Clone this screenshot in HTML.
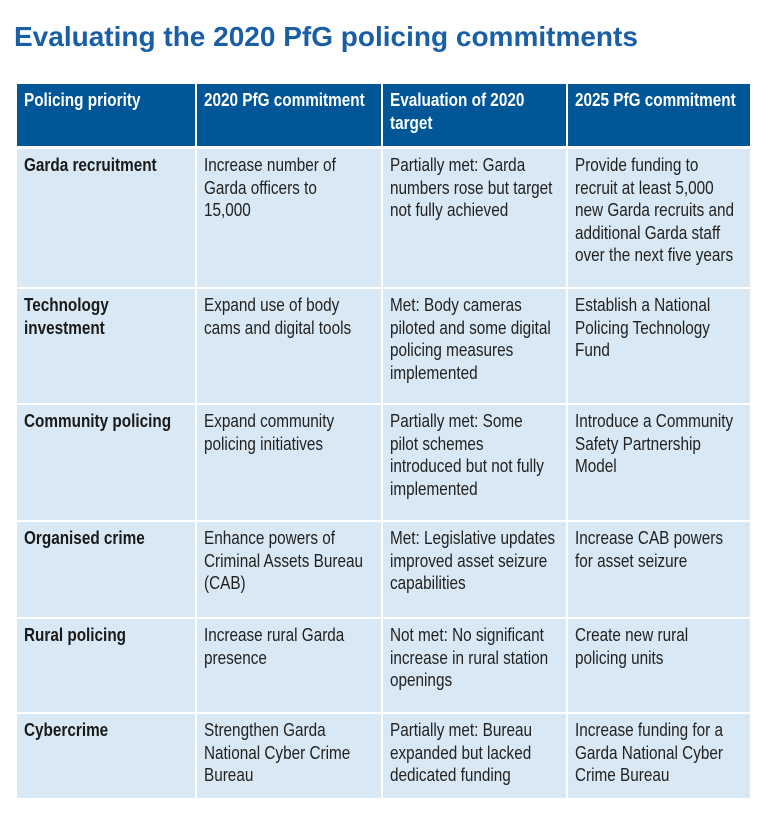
<!DOCTYPE html><html><head><style>
body{margin:0;width:768px;height:815px;background:#fff;position:relative;overflow:hidden;font-family:"Liberation Sans",sans-serif;}
.t{position:absolute;left:14px;top:21px;font-weight:bold;font-size:28px;color:#1a5fa6;white-space:nowrap;}
.c{position:absolute;box-sizing:border-box;padding:5px 7px 0 7px;background:#d8e9f5;}
.c>div{font-size:18px;line-height:22.5px;color:#222;white-space:nowrap;transform:scaleX(0.85);transform-origin:0 0;}
.h{background:#005697;}
.h>div{color:#fff;font-weight:bold;}
.b>div{font-weight:bold;color:#1a1a1a;}
</style></head><body>
<div class="t">Evaluating the 2020 PfG policing commitments</div>
<div class="c h" style="left:17px;top:84px;width:178px;height:62px"><div>Policing priority</div></div>
<div class="c h" style="left:197px;top:84px;width:184px;height:62px"><div>2020 PfG commitment</div></div>
<div class="c h" style="left:383px;top:84px;width:183px;height:62px"><div>Evaluation of 2020<br>target</div></div>
<div class="c h" style="left:568px;top:84px;width:182px;height:62px"><div>2025 PfG commitment</div></div>

<div class="c b" style="left:17px;top:149px;width:178px;height:138px"><div>Garda recruitment</div></div>
<div class="c" style="left:197px;top:149px;width:184px;height:138px"><div>Increase number of<br>Garda officers to<br>15,000</div></div>
<div class="c" style="left:383px;top:149px;width:183px;height:138px"><div>Partially met: Garda<br>numbers rose but target<br>not fully achieved</div></div>
<div class="c" style="left:568px;top:149px;width:182px;height:138px"><div>Provide funding to<br>recruit at least 5,000<br>new Garda recruits and<br>additional Garda staff<br>over the next five years</div></div>

<div class="c b" style="left:17px;top:289px;width:178px;height:114px"><div>Technology<br>investment</div></div>
<div class="c" style="left:197px;top:289px;width:184px;height:114px"><div>Expand use of body<br>cams and digital tools</div></div>
<div class="c" style="left:383px;top:289px;width:183px;height:114px"><div>Met: Body cameras<br>piloted and some digital<br>policing measures<br>implemented</div></div>
<div class="c" style="left:568px;top:289px;width:182px;height:114px"><div>Establish a National<br>Policing Technology<br>Fund</div></div>

<div class="c b" style="left:17px;top:405px;width:178px;height:115px"><div>Community policing</div></div>
<div class="c" style="left:197px;top:405px;width:184px;height:115px"><div>Expand community<br>policing initiatives</div></div>
<div class="c" style="left:383px;top:405px;width:183px;height:115px"><div>Partially met: Some<br>pilot schemes<br>introduced but not fully<br>implemented</div></div>
<div class="c" style="left:568px;top:405px;width:182px;height:115px"><div>Introduce a Community<br>Safety Partnership<br>Model</div></div>

<div class="c b" style="left:17px;top:522px;width:178px;height:95px"><div>Organised crime</div></div>
<div class="c" style="left:197px;top:522px;width:184px;height:95px"><div>Enhance powers of<br>Criminal Assets Bureau<br>(CAB)</div></div>
<div class="c" style="left:383px;top:522px;width:183px;height:95px"><div>Met: Legislative updates<br>improved asset seizure<br>capabilities</div></div>
<div class="c" style="left:568px;top:522px;width:182px;height:95px"><div>Increase CAB powers<br>for asset seizure</div></div>

<div class="c b" style="left:17px;top:619px;width:178px;height:93px"><div>Rural policing</div></div>
<div class="c" style="left:197px;top:619px;width:184px;height:93px"><div>Increase rural Garda<br>presence</div></div>
<div class="c" style="left:383px;top:619px;width:183px;height:93px"><div>Not met: No significant<br>increase in rural station<br>openings</div></div>
<div class="c" style="left:568px;top:619px;width:182px;height:93px"><div>Create new rural<br>policing units</div></div>

<div class="c b" style="left:17px;top:714px;width:178px;height:84px"><div>Cybercrime</div></div>
<div class="c" style="left:197px;top:714px;width:184px;height:84px"><div>Strengthen Garda<br>National Cyber Crime<br>Bureau</div></div>
<div class="c" style="left:383px;top:714px;width:183px;height:84px"><div>Partially met: Bureau<br>expanded but lacked<br>dedicated funding</div></div>
<div class="c" style="left:568px;top:714px;width:182px;height:84px"><div>Increase funding for a<br>Garda National Cyber<br>Crime Bureau</div></div>
</body></html>
